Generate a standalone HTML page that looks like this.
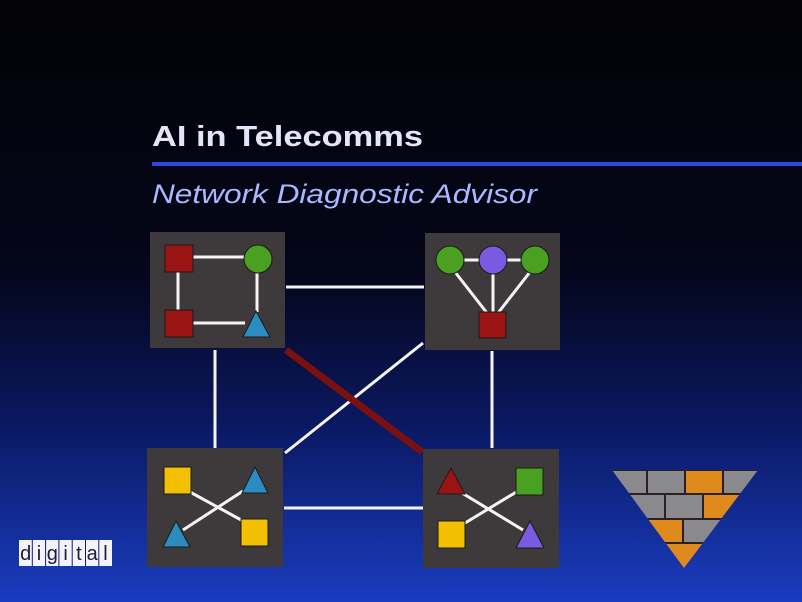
<!DOCTYPE html>
<html><head><style>html,body{margin:0;padding:0;background:#000}svg{display:block}</style></head>
<body>
<svg width="802" height="602" viewBox="0 0 802 602" xmlns="http://www.w3.org/2000/svg">
<defs>
<linearGradient id="bg" x1="0" y1="0" x2="0" y2="1">
<stop offset="0" stop-color="#030306"/>
<stop offset="0.45" stop-color="#04061a"/>
<stop offset="0.7" stop-color="#0a1860"/>
<stop offset="1" stop-color="#1a3cc0"/>
</linearGradient>
<clipPath id="tri"><polygon points="612,470 758,470 684,568"/></clipPath>
</defs>
<rect width="802" height="602" fill="url(#bg)"/>
<text x="152" y="146" font-family="Liberation Sans, sans-serif" font-weight="bold" font-size="29" fill="#e4e4fa" textLength="271" lengthAdjust="spacingAndGlyphs">AI in Telecomms</text>
<rect x="152" y="162" width="650" height="4" fill="#2a4ae0"/>
<text x="152" y="203" font-family="Liberation Sans, sans-serif" font-style="italic" font-size="27" fill="#aab8ff" textLength="385" lengthAdjust="spacingAndGlyphs">Network Diagnostic Advisor</text>

<g stroke="#f4f4f4" stroke-width="3" fill="none">
<line x1="286" y1="287" x2="424" y2="287"/>
<line x1="215" y1="350" x2="215" y2="448"/>
<line x1="492" y1="351" x2="492" y2="448"/>
<line x1="284" y1="508" x2="423" y2="508"/>
<line x1="423" y1="343" x2="285" y2="453"/>
</g>
<line x1="286" y1="350" x2="422" y2="452" stroke="#7a1010" stroke-width="7"/>

<g fill="#3e3a3b">
<rect x="150" y="232" width="135" height="116"/>
<rect x="425" y="233" width="135" height="117"/>
<rect x="147" y="448" width="136" height="119"/>
<rect x="423" y="449" width="136" height="119"/>
</g>

<g stroke="#f4f4f4" stroke-width="3">
<line x1="193" y1="257" x2="245" y2="257"/>
<line x1="178" y1="272" x2="178" y2="310"/>
<line x1="257" y1="272" x2="257" y2="312"/>
<line x1="193" y1="323" x2="245" y2="323"/>
<line x1="464" y1="260" x2="522" y2="260"/>
<line x1="455" y1="272" x2="487" y2="313"/>
<line x1="493" y1="274" x2="493" y2="313"/>
<line x1="530" y1="272" x2="498" y2="313"/>
<line x1="190" y1="492" x2="243" y2="521"/>
<line x1="243" y1="491" x2="183" y2="530"/>
<line x1="462" y1="493" x2="523" y2="530"/>
<line x1="518" y1="491" x2="465" y2="523"/>
</g>

<g stroke="#1a1a1a" stroke-width="1">
<rect x="165" y="245" width="28" height="27" fill="#9a1414"/>
<circle cx="258" cy="259" r="14" fill="#4aa020"/>
<rect x="165" y="310" width="28" height="27" fill="#9a1414"/>
<polygon points="256,311 270,337 243,337" fill="#2a8cc0"/>
<circle cx="450" cy="260" r="14" fill="#4aa020"/>
<circle cx="493" cy="260" r="14" fill="#7a5ae0"/>
<circle cx="535" cy="260" r="14" fill="#4aa020"/>
<rect x="479" y="312" width="27" height="26" fill="#9a1414"/>
<rect x="164" y="467" width="27" height="27" fill="#f2c000"/>
<polygon points="255,467 268,493 242,493" fill="#2a8cc0"/>
<polygon points="176,521 190,547 163,547" fill="#2a8cc0"/>
<rect x="241" y="519" width="27" height="27" fill="#f2c000"/>
<polygon points="451,468 465,494 437,494" fill="#9a1414"/>
<rect x="516" y="468" width="27" height="27" fill="#4aa020"/>
<rect x="438" y="521" width="27" height="27" fill="#f2c000"/>
<polygon points="530,521 544,548 516,548" fill="#7a5ae0"/>
</g>

<g clip-path="url(#tri)" stroke="#2a2020" stroke-width="2">
<rect x="600" y="470" width="47" height="24" fill="#8a8a8e"/>
<rect x="647" y="470" width="38" height="24" fill="#8a8a8e"/>
<rect x="685" y="470" width="38" height="24" fill="#e08a1e"/>
<rect x="723" y="470" width="40" height="24" fill="#8a8a8e"/>
<rect x="600" y="494" width="65" height="25" fill="#8a8a8e"/>
<rect x="665" y="494" width="38" height="25" fill="#8a8a8e"/>
<rect x="703" y="494" width="60" height="25" fill="#e08a1e"/>
<rect x="600" y="519" width="83" height="24" fill="#e08a1e"/>
<rect x="683" y="519" width="80" height="24" fill="#8a8a8e"/>
<rect x="600" y="543" width="163" height="30" fill="#e08a1e"/>
</g>

<g font-family="Liberation Sans, sans-serif" font-size="20" fill="#1a1a3a" text-anchor="middle">
<rect x="19" y="540" width="93" height="26" fill="#f4f4f8"/>
<g stroke="#0a1a80" stroke-width="1">
<line x1="32.3" y1="540" x2="32.3" y2="566"/><line x1="45.6" y1="540" x2="45.6" y2="566"/>
<line x1="58.9" y1="540" x2="58.9" y2="566"/><line x1="72.2" y1="540" x2="72.2" y2="566"/>
<line x1="85.5" y1="540" x2="85.5" y2="566"/><line x1="98.8" y1="540" x2="98.8" y2="566"/>
</g>
<text x="25.7" y="560">d</text><text x="39" y="560">i</text><text x="52.3" y="560">g</text>
<text x="65.6" y="560">i</text><text x="78.9" y="560">t</text><text x="92.2" y="560">a</text><text x="105.5" y="560">l</text>
</g>
</svg>
</body></html>
